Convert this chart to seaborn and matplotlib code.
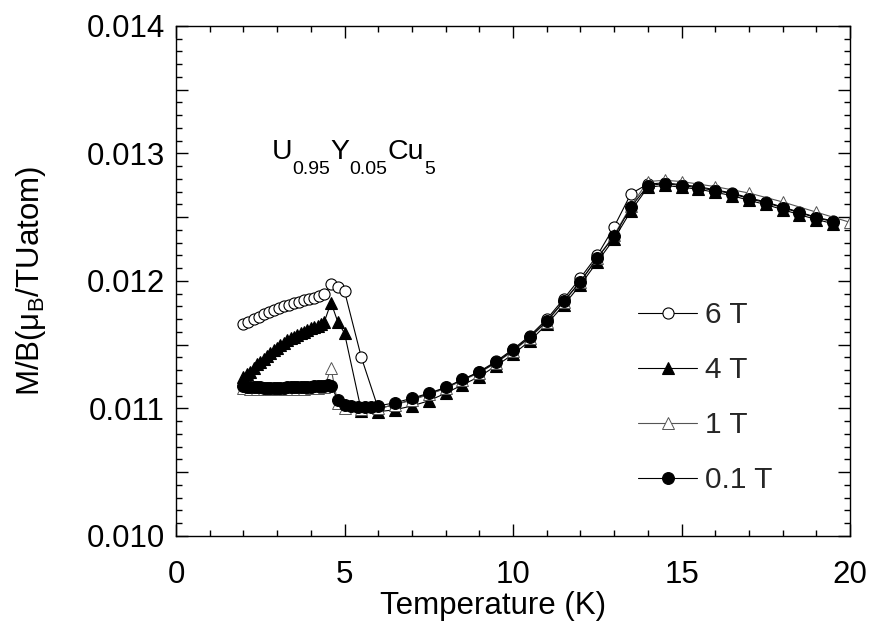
import numpy as np
import pandas as pd
import seaborn as sns
import matplotlib
matplotlib.use("Agg")
import matplotlib.pyplot as plt
from matplotlib.ticker import MultipleLocator, FuncFormatter
from matplotlib.transforms import IdentityTransform

# ---------------- data ----------------
T_6T = [2.0, 2.15, 2.3, 2.45, 2.6, 2.75, 2.9, 3.05, 3.2, 3.35, 3.5, 3.65, 3.8, 3.95, 4.1, 4.25, 4.4,
        4.6, 4.8, 5.0, 5.5, 6.0, 6.5, 7.0, 7.5, 8.0, 8.5, 9.0, 9.5, 10.0, 10.5, 11.0, 11.5, 12.0,
        12.5, 13.0, 13.5, 14.0, 14.5, 15.0, 15.5, 16.0, 16.5, 17.0, 17.5, 18.0, 18.5, 19.0, 19.5]
M_6T = [0.011665, 0.01168, 0.011705, 0.01172, 0.01174, 0.011755, 0.01177, 0.011785, 0.0118,
        0.011815, 0.011825, 0.011838, 0.01185, 0.01186, 0.01187, 0.01188, 0.0119,
        0.01198, 0.011955, 0.01192, 0.01140, 0.01100, 0.01103, 0.01107, 0.011115, 0.01116,
        0.011225, 0.01129, 0.01137, 0.011465, 0.01157, 0.0117, 0.011858, 0.012024,
        0.01220, 0.012425, 0.012685, 0.01276, 0.01277, 0.012755, 0.01274, 0.012715,
        0.01269, 0.012652, 0.01262, 0.01258, 0.01254, 0.0125, 0.01247]

T_4T = [2.0, 2.1, 2.2, 2.3, 2.4, 2.5, 2.6, 2.7, 2.8, 2.9, 3.0, 3.1, 3.2, 3.3, 3.4, 3.5, 3.6, 3.7,
        3.8, 3.9, 4.0, 4.1, 4.2, 4.3, 4.4, 4.6, 4.8, 5.0, 5.5, 6.0, 6.5, 7.0, 7.5, 8.0, 8.5, 9.0,
        9.5, 10.0, 10.5, 11.0, 11.5, 12.0, 12.5, 13.0, 13.5, 14.0, 14.5, 15.0, 15.5, 16.0, 16.5,
        17.0, 17.5, 18.0, 18.5, 19.0, 19.5]
M_4T = [0.01125, 0.01127, 0.01129, 0.011315, 0.011345, 0.011365, 0.011385, 0.01141, 0.011435,
        0.011455, 0.011475, 0.011495, 0.011515, 0.011535, 0.01155, 0.011563, 0.011576, 0.01159,
        0.011603, 0.011616, 0.011628, 0.01164, 0.01165, 0.01166, 0.01168, 0.01183, 0.01168,
        0.01159, 0.01098, 0.010975, 0.01099, 0.01102, 0.01106, 0.01112, 0.011185, 0.01125,
        0.011335, 0.011425, 0.01153, 0.01166, 0.01181, 0.01197, 0.01215, 0.01233, 0.01255,
        0.012735, 0.01275, 0.012735, 0.01272, 0.012695, 0.01267, 0.012632, 0.0126, 0.01256,
        0.01252, 0.012482, 0.01245]

T_1T = [2.0, 2.2, 2.4, 2.6, 2.8, 3.0, 3.2, 3.4, 3.6, 3.8, 4.0, 4.2, 4.4, 4.6, 4.8, 5.0, 5.5, 6.0,
        6.5, 7.0, 7.5, 8.0, 8.5, 9.0, 9.5, 10.0, 10.5, 11.0, 11.5, 12.0, 12.5, 13.0, 13.5, 14.0,
        14.5, 15.0, 16.0, 17.0, 18.0, 19.0, 20.0]
M_1T = [0.011158, 0.011155, 0.011152, 0.01115, 0.01115, 0.01115, 0.011151, 0.011152, 0.011154,
        0.011156, 0.011158, 0.01116, 0.011165, 0.011315, 0.01104, 0.01100, 0.010995, 0.01100,
        0.01103, 0.011065, 0.01111, 0.011158, 0.01122, 0.01128, 0.011358, 0.01145, 0.011555,
        0.01168, 0.011835, 0.011995, 0.01218, 0.01236, 0.01259, 0.01278, 0.01279, 0.01278,
        0.01274, 0.01269, 0.01262, 0.01254, 0.01246]

T_01T = [2.0, 2.1, 2.2, 2.3, 2.4, 2.5, 2.6, 2.7, 2.8, 2.9, 3.0, 3.1, 3.2, 3.3, 3.4, 3.5, 3.6, 3.7,
         3.8, 3.9, 4.0, 4.1, 4.2, 4.3, 4.4, 4.5, 4.6, 4.8, 5.0, 5.2, 5.4, 5.6, 5.8, 6.0, 6.5, 7.0,
         7.5, 8.0, 8.5, 9.0, 9.5, 10.0, 10.5, 11.0, 11.5, 12.0, 12.5, 13.0, 13.5, 14.0, 14.5, 15.0,
         15.5, 16.0, 16.5, 17.0, 17.5, 18.0, 18.5, 19.0, 19.5]
M_01T = [0.011175, 0.011172, 0.01117, 0.011168, 0.011166, 0.011165, 0.011164, 0.011163, 0.011163,
         0.011163, 0.011163, 0.011164, 0.011164, 0.011165, 0.011166, 0.011167, 0.011168, 0.011169,
         0.01117, 0.011171, 0.011172, 0.011174, 0.011176, 0.011178, 0.01118, 0.011184, 0.011175,
         0.01107, 0.01103, 0.01102, 0.011015, 0.01101, 0.011015, 0.01102, 0.011045, 0.01108,
         0.01112, 0.011165, 0.011228, 0.011285, 0.011362, 0.011457, 0.01156, 0.011685, 0.01184,
         0.011995, 0.01218, 0.01235, 0.01258, 0.012748, 0.012764, 0.012748, 0.012732, 0.012709,
         0.012685, 0.012646, 0.012614, 0.012575, 0.012535, 0.012496, 0.012465]

labels = ["6 T", "4 T", "1 T", "0.1 T"]
x_ticks = [0, 5, 10, 15, 20]
y_ticks = [0.010, 0.011, 0.012, 0.013, 0.014]

# ---------------- style ----------------
sns.set_theme(style="ticks")
plt.rcParams["font.family"] = ["Liberation Sans", "DejaVu Sans"]
plt.rcParams["mathtext.default"] = "regular"

fig = plt.figure(figsize=(8.71, 6.26), dpi=100)
ax = fig.add_axes([0.2021, 0.1438, 0.7738, 0.8147])

styles = [
    dict(marker="o", markersize=8, markerfacecolor="white", markeredgecolor="black",
         color="black", markeredgewidth=0.8, linewidth=0.8),
    dict(marker="^", markersize=8.5, markerfacecolor="black", markeredgecolor="black",
         color="black", markeredgewidth=0.8, linewidth=0.8),
    dict(marker="^", markersize=8, markerfacecolor="white", markeredgecolor="#555555",
         color="#555555", markeredgewidth=0.7, linewidth=0.8),
    dict(marker="o", markersize=8.5, markerfacecolor="black", markeredgecolor="black",
         color="black", markeredgewidth=0.8, linewidth=0.8),
]
series = [(T_6T, M_6T), (T_4T, M_4T), (T_1T, M_1T), (T_01T, M_01T)]

for (T, M), lab, st in zip(series, labels, styles):
    df = pd.DataFrame({"T": T, "M": M})
    sns.lineplot(data=df, x="T", y="M", ax=ax, estimator=None, sort=False,
                 label=lab, legend=False, **st)

ax.set_xlim(0, 20)
ax.set_ylim(0.010, 0.014)
ax.xaxis.set_major_locator(MultipleLocator(5))
ax.xaxis.set_minor_locator(MultipleLocator(1))
ax.yaxis.set_major_locator(MultipleLocator(0.0005))
ax.yaxis.set_minor_locator(MultipleLocator(0.0001))


def yfmt(v, pos):
    for t in y_ticks:
        if abs(v - t) < 1e-7:
            return f"{t:.3f}"
    return ""


ax.yaxis.set_major_formatter(FuncFormatter(yfmt))
ax.set_xticks(x_ticks)
ax.set_xticklabels([str(v) for v in x_ticks])

ax.tick_params(which="both", direction="in", top=True, right=True, color="black",
               width=1.0, labelsize=22.5, labelcolor="black")
ax.tick_params(which="major", length=8.5)
ax.tick_params(which="minor", length=4.3)
ax.tick_params(axis="y", pad=8)
ax.tick_params(axis="x", pad=17)
for s in ax.spines.values():
    s.set_color("black")
    s.set_linewidth(1.0)

ax.set_xlabel("Temperature (K)", fontsize=22.5, color="black")
ax.set_ylabel("M/B(μ$_B$/TUatom)", fontsize=22.5, color="black")
ax.xaxis.set_label_coords(0.47, -0.108)
ax.yaxis.set_label_coords(-0.19, 0.5)

handles = ax.get_lines()[:4]
ax.legend(handles, labels, loc="upper left", bbox_to_anchor=(0.685, 0.46),
          frameon=False, borderpad=0, borderaxespad=0, handlelength=2.0,
          handletextpad=0.25, labelspacing=0.9, fontsize=21.5, numpoints=1)

# compound label U0.95Y0.05Cu5
fig.canvas.draw()
renderer = fig.canvas.get_renderer()
x0, y0 = ax.transData.transform((2.85, 0.01296))
pieces = [("U", 20.5, 0), ("0.95", 14, -15), ("Y", 20.5, 0), ("0.05", 14, -15),
          ("Cu", 20.5, 0), ("5", 14, -15)]
xc = x0
for s, fs, dy in pieces:
    t = ax.text(xc, y0 + dy, s, fontsize=fs, va="baseline", ha="left",
                transform=IdentityTransform(), color="black")
    bb = t.get_window_extent(renderer)
    xc += bb.width

fig.savefig("out.png", dpi=100)
